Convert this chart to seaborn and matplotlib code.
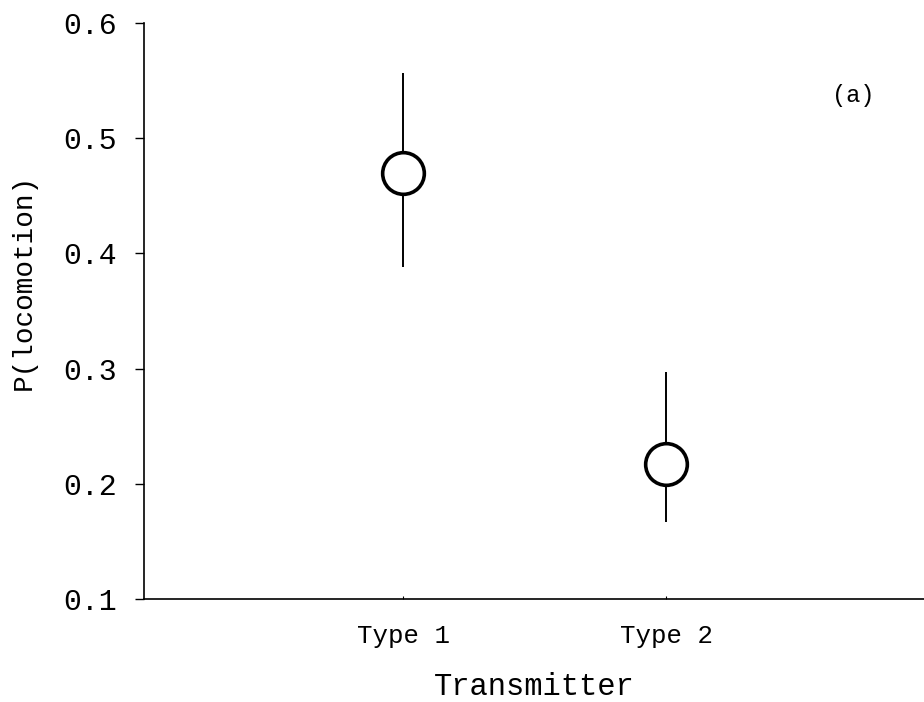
import matplotlib
matplotlib.use("Agg")
import matplotlib.pyplot as plt
import seaborn as sns
import pandas as pd

categories = ["Type 1", "Type 2"]
means = [0.470, 0.217]
lower = [0.388, 0.167]
upper = [0.557, 0.297]
yticks = [0.1, 0.2, 0.3, 0.4, 0.5, 0.6]

sns.set_theme(style="ticks")
plt.rcParams["font.family"] = ["Liberation Mono", "DejaVu Sans"]
plt.rcParams["text.color"] = "black"
plt.rcParams["axes.labelcolor"] = "black"

df = pd.DataFrame({"Transmitter": categories, "p": means, "lo": lower, "hi": upper})

fig = plt.figure(figsize=(9.24, 7.02), dpi=100)
ax = fig.add_axes([0.1558, 0.1467, 0.8442, 0.8205])

ax.vlines(df["Transmitter"], df["lo"], df["hi"], color="black", linewidth=1.4, zorder=2)
sns.scatterplot(data=df, x="Transmitter", y="p", ax=ax, s=900, marker="o",
                facecolor="white", edgecolor="black", linewidth=2.6, zorder=3, legend=False)

ax.set_xlim(-0.985, 1.98)
ax.set_ylim(0.1, 0.6)
ax.set_yticks(yticks)
ax.set_yticklabels([f"{v:.1f}" for v in yticks], fontsize=21.5)
ax.tick_params(axis="y", direction="out", length=6.5, width=1.0, pad=13, colors="black")
ax.tick_params(axis="x", direction="in", length=2, width=0.8, pad=18, labelsize=18.5, colors="black")
ax.set_xlabel("Transmitter", fontsize=22, labelpad=17, color="black")
ax.set_ylabel("P(locomotion)", fontsize=20, color="black")
ax.yaxis.set_label_coords(-0.137, 0.55)
for s in ["top", "right"]:
    ax.spines[s].set_visible(False)
for s in ["left", "bottom"]:
    ax.spines[s].set_color("black")
    ax.spines[s].set_linewidth(1.2)
ax.text(1.71, 0.5375, "(a)", fontsize=17, ha="center", va="center", color="black")

fig.savefig("out.png", dpi=100, facecolor="white")
